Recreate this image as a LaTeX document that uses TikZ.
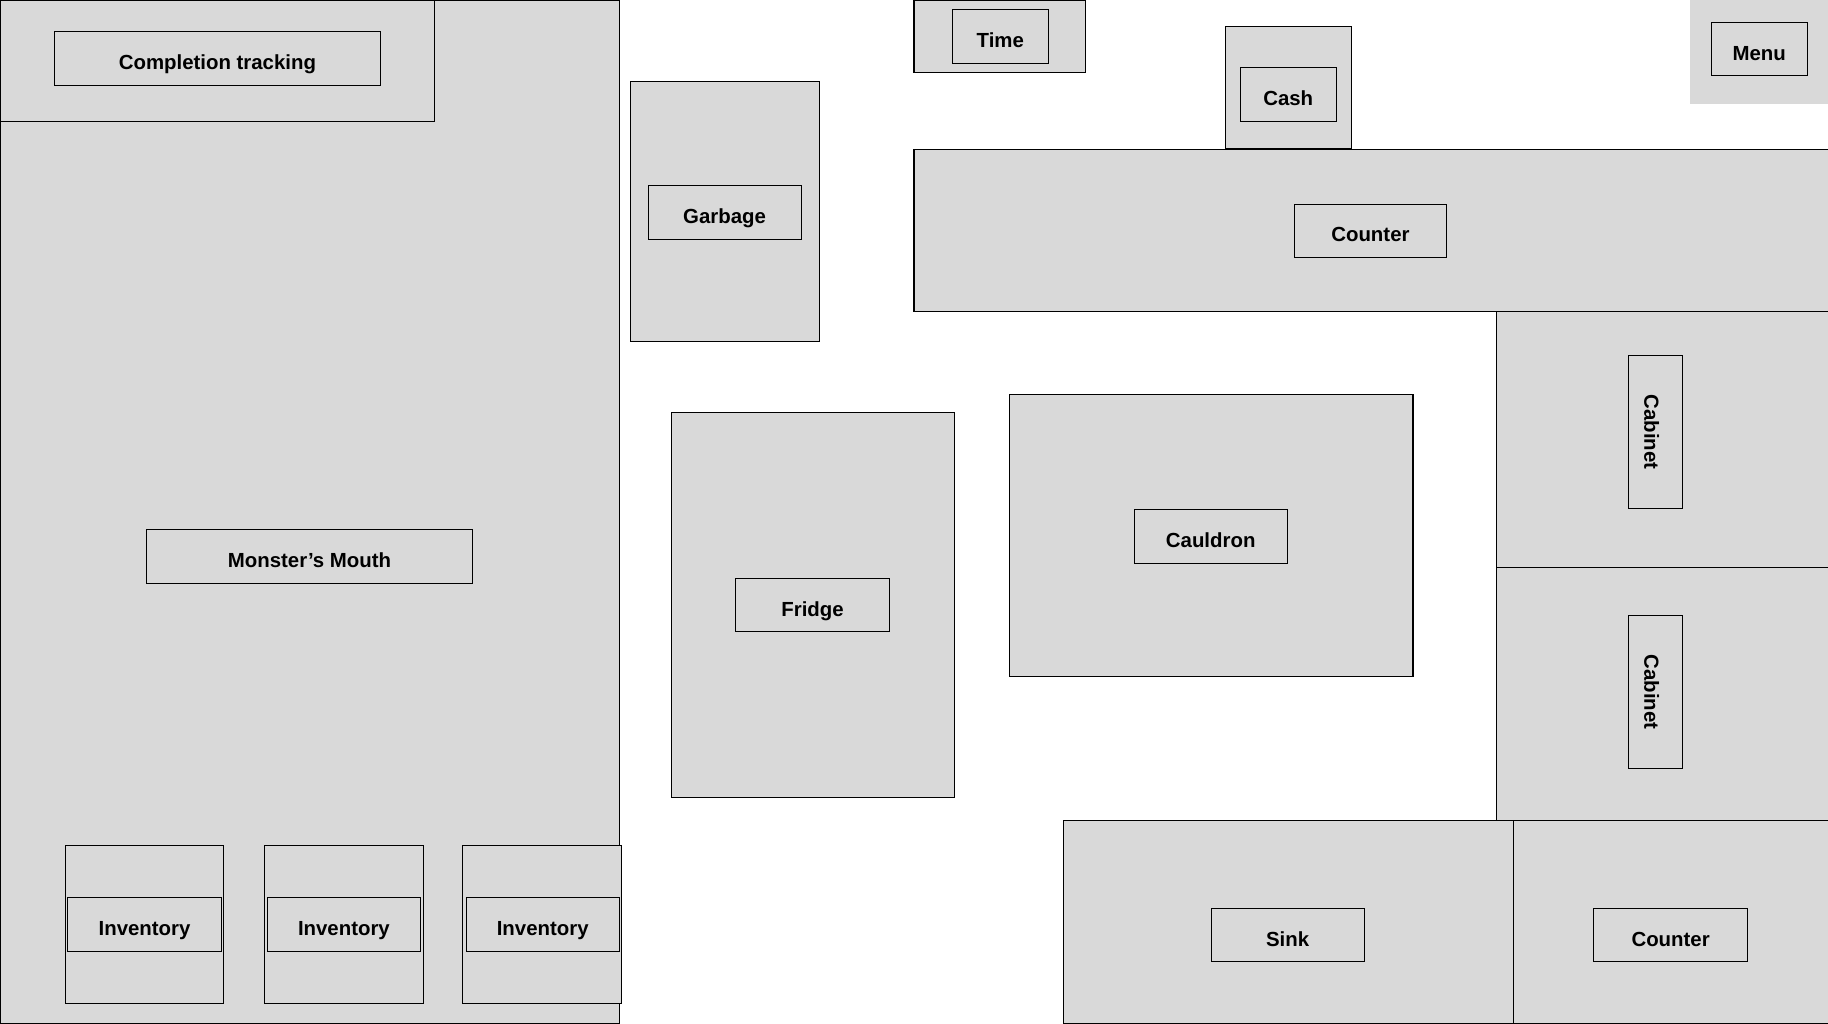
\documentclass[tikz,border=0pt]{standalone}
\usepackage{fontspec}
\setmainfont{Liberation Sans}
\definecolor{panelgray}{HTML}{D9D9D9}
\tikzset{
  panel/.style={draw=black, fill=panelgray, line width=0.9pt},
  tag/.style={draw=black, fill=panelgray, line width=0.7pt, inner sep=0pt,
    text height=19pt, text depth=0pt,
    font=\bfseries\fontsize{17.5}{20}\selectfont}
}

\begin{document}
\begin{tikzpicture}[x=1pt, y=-1pt]
    \useasboundingbox (0,0) rectangle (1568,878);

    % Monster area
    \draw[panel] (0,0) rectangle (531,878);
    \draw[panel] (0,0) rectangle (373,104);
    \node[tag, minimum width=279pt, minimum height=46pt] (tracking) at (186.5,50) {Completion tracking};
    \node[tag, minimum width=279pt, minimum height=46pt] (mouth) at (265.5,477) {Monster’s Mouth};

    % Inventory slots
    \draw[panel] (56,725) rectangle (192,861);
    \draw[panel] (227,725) rectangle (363,861);
    \draw[panel] (397,725) rectangle (533,861);
    \node[tag, minimum width=132pt, minimum height=46pt] (inv1) at (124,793) {Inventory};
    \node[tag, minimum width=132pt, minimum height=46pt] (inv2) at (295,793) {Inventory};
    \node[tag, minimum width=131pt, minimum height=46pt] (inv3) at (465.5,793) {Inventory};

    % Garbage and fridge
    \draw[panel] (541,70) rectangle (703,293);
    \node[tag, minimum width=131pt, minimum height=46pt] (garbage) at (621.5,182) {Garbage};
    \draw[panel] (576,354) rectangle (819,684);
    \node[tag, minimum width=132pt, minimum height=46pt] (fridge) at (697,519) {Fridge};

    % Top bar
    \draw[panel] (784,0) rectangle (931,62);
    \node[tag, minimum width=82pt, minimum height=46pt] (time) at (858,31) {Time};
    \draw[panel] (1051,23) rectangle (1159,127);
    \node[tag, minimum width=82pt, minimum height=46pt] (cash) at (1105,81) {Cash};
    \fill[panelgray] (1450,0) rectangle (1568,89); % no border
    \node[tag, minimum width=82pt, minimum height=46pt] (menu) at (1509,42) {Menu};

    % Counters
    \draw[panel] (784,128) rectangle (1568,267);
    \node[tag, minimum width=131pt, minimum height=46pt] (countertop) at (1175.5,198) {Counter};
    \draw[panel] (1298,704) rectangle (1568,878);
    \node[tag, minimum width=132pt, minimum height=46pt] (counterbottom) at (1433,802) {Counter};

    % Cauldron
    \draw[panel] (866,338) rectangle (1212,580);
    \node[tag, minimum width=131pt, minimum height=46pt] (cauldron) at (1038.5,460) {Cauldron};

    % Cabinets
    \draw[panel] (1284,267) rectangle (1568,487);
    \node[tag, rotate=-90, minimum width=131pt, minimum height=46pt] (cabinet1) at (1420,370.5) {Cabinet};
    \draw[panel] (1284,487) rectangle (1568,704);
    \node[tag, rotate=-90, minimum width=131pt, minimum height=46pt] (cabinet2) at (1420,593.5) {Cabinet};

    % Sink
    \draw[panel] (912,704) rectangle (1298,878);
    \node[tag, minimum width=131pt, minimum height=46pt] (sink) at (1104.5,802) {Sink};
\end{tikzpicture}
\end{document}
